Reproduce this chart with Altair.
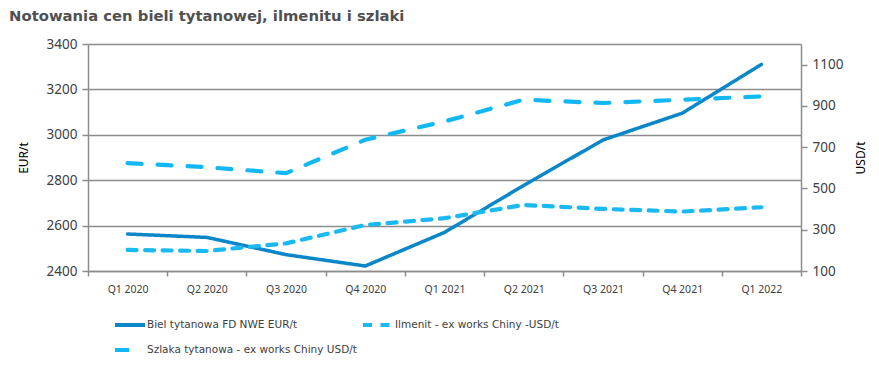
import altair as alt
import pandas as pd

quarters = ["Q1 2020", "Q2 2020", "Q3 2020", "Q4 2020", "Q1 2021",
            "Q2 2021", "Q3 2021", "Q4 2021", "Q1 2022"]
biel = [2563, 2548, 2472, 2422, 2570, 2777, 2977, 3095, 3310]
ilmenit = [202, 197, 234, 323, 356, 420, 401, 388, 409]
szlaka = [623, 603, 574, 736, 825, 930, 914, 930, 946]
series_names = ["Biel tytanowa FD NWE EUR/t",
                "Ilmenit - ex works Chiny -USD/t",
                "Szlaka tytanowa - ex works Chiny USD/t"]
colors = ["#0b86c8", "#1ab9f2", "#12b8f4"]
dashes = [[1, 0], [9, 8.5], [14, 16]]

rows = []
for name, vals in zip(series_names, [biel, ilmenit, szlaka]):
    for q, v in zip(quarters, vals):
        rows.append({"q": q, "s": name, "v": v})
df = pd.DataFrame(rows)

FONT = "Noto Sans"
TXT = "#404040"
GRID = "#8c8c8c"

legend = alt.Legend(orient="none", legendX=25, legendY=264, columns=2, title=None,
                    direction="horizontal",
                    symbolType="M-1,0H1", symbolSize=900, symbolStrokeWidth=4,
                    labelFont="DejaVu Sans", labelFontSize=10.5, labelColor=TXT,
                    labelLimit=400, columnPadding=-2, rowPadding=-7, padding=0,
                    labelOffset=0)

x = alt.X("q:N", sort=quarters,
          scale=alt.Scale(type="band", paddingInner=0, paddingOuter=0),
          axis=alt.Axis(title=None, tickBand="extent", labelAngle=0,
                        labelFont=FONT, labelFontSize=10.5, labelColor=TXT,
                        tickColor=GRID, tickSize=5, tickWidth=1.5,
                        domainColor=GRID, domainWidth=1.5, labelPadding=8,
                        grid=False))

color = alt.Color("s:N", scale=alt.Scale(domain=series_names, range=colors), legend=legend)
dash = alt.StrokeDash("s:N", scale=alt.Scale(domain=series_names, range=dashes), legend=legend)

left = alt.Chart(df[df.s == series_names[0]]).mark_line(
    strokeWidth=3.5, strokeCap="round", strokeJoin="round"
).encode(
    x=x,
    y=alt.Y("v:Q", scale=alt.Scale(domain=[2400, 3400], nice=False, zero=False),
            axis=alt.Axis(title="EUR/t", values=[2400, 2600, 2800, 3000, 3200, 3400],
                          format="d",
                          grid=True, gridColor=GRID, gridWidth=1.5,
                          domainColor=GRID, domainWidth=1.5,
                          tickColor=GRID, tickSize=6, tickWidth=1.5,
                          labelFont=FONT, labelFontSize=13.5, labelColor=TXT,
                          labelPadding=5,
                          titleFont=FONT, titleFontSize=12, titleFontWeight="normal",
                          titleColor="#000000", titlePadding=16)),
    color=color,
    strokeDash=dash,
)

right = alt.Chart(df[df.s != series_names[0]]).mark_line(
    strokeWidth=4.2, strokeCap="round", strokeJoin="round"
).encode(
    x=x,
    y=alt.Y("v:Q", scale=alt.Scale(domain=[100, 1200], nice=False, zero=False),
            axis=alt.Axis(title="USD/t", orient="right",
                          values=[100, 300, 500, 700, 900, 1100], format="d",
                          grid=False, domainColor=GRID, domainWidth=1.5,
                          tickColor=GRID, tickSize=6, tickWidth=1.5,
                          labelFont=FONT, labelFontSize=13.5, labelColor=TXT,
                          labelPadding=5,
                          titleFont=FONT, titleFontSize=12, titleFontWeight="normal",
                          titleColor="#000000", titlePadding=25, titleAngle=270)),
    color=color,
    strokeDash=dash,
)

chart = alt.layer(left, right).resolve_scale(y="independent").properties(
    width=713, height=227,
    autosize=alt.AutoSizeParams(type="none"),
    padding={"left": 80, "top": 36, "right": 70, "bottom": 88},
    title=alt.TitleParams("Notowania cen bieli tytanowej, ilmenitu i szlaki",
                          anchor="start", dx=-8, offset=13,
                          font="DejaVu Sans", fontSize=14.8, fontWeight="bold",
                          color="#505050"),
).configure_view(stroke=None).configure(background="white")

chart.save("out.html", embed_options={"renderer": "svg", "actions": False})
